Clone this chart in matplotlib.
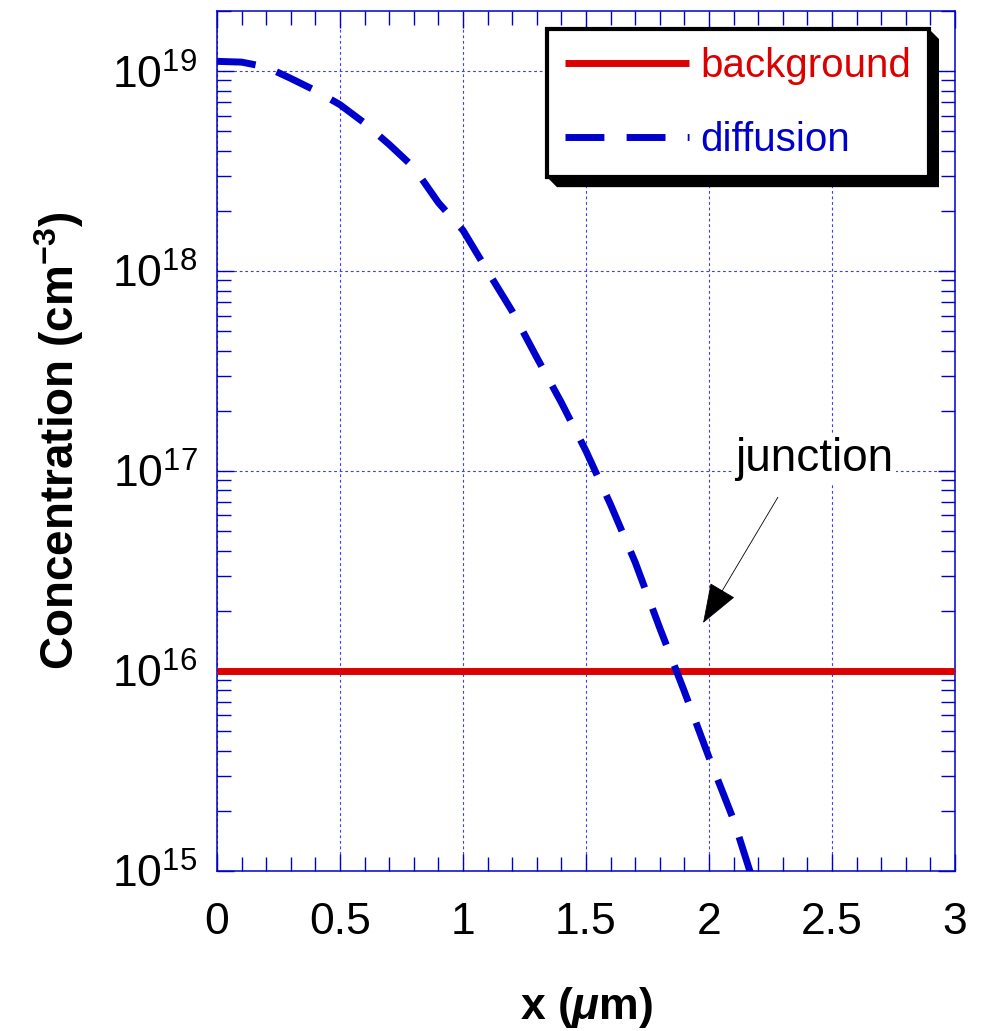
import matplotlib
matplotlib.use("Agg")
import matplotlib.pyplot as plt
from matplotlib.patches import Polygon
from matplotlib.transforms import IdentityTransform
from matplotlib.ticker import MultipleLocator, LogLocator, NullFormatter

plt.rcParams['font.family'] = ['Liberation Sans', 'DejaVu Sans']
plt.rcParams['mathtext.fontset'] = 'custom'
plt.rcParams['mathtext.rm'] = 'Liberation Sans'
plt.rcParams['mathtext.it'] = 'Liberation Sans:italic'
plt.rcParams['mathtext.bf'] = 'Liberation Sans:bold'
try:
    plt.rcParams['mathtext.bfit'] = 'Liberation Sans:italic:bold'
    XLABEL = r'x ($\mathbfit{\mu}$m)'
except KeyError:
    XLABEL = 'x (μm)'

# ---- data ----
x_diffusion = [0.0, 0.1, 0.2, 0.3, 0.4, 0.5, 0.6, 0.7, 0.8, 0.9, 1.0, 1.1,
               1.2, 1.3, 1.4, 1.5, 1.6, 1.7, 1.8, 1.9, 2.0, 2.1, 2.2]
c_diffusion = [1.12e19, 1.11e19, 1.05e19, 9.2e18, 8.0e18, 6.8e18, 5.5e18,
               4.3e18, 3.3e18, 2.2e18, 1.6e18, 1.0e18, 6.3e17, 3.7e17,
               2.2e17, 1.26e17, 6.8e16, 3.5e16, 1.64e16, 7.9e15, 3.7e15,
               1.8e15, 7.4e14]
x_background = [0.0, 3.0]
c_background = [1e16, 1e16]
labels = ['background', 'diffusion']
junction_text = 'junction'
junction_text_pos = (2.427, 1e17)
junction_tip = (1.976, 1.74e16)
junction_tail = (2.28, 7.4e16)

RED = '#DD0000'
BLUE = '#0000CC'
GRID = '#3c3cff'

fig = plt.figure(figsize=(9.99, 10.31), dpi=100)
ax = fig.add_axes([217/999, 160/1031, 738/999, 860/1031])

ax.plot(x_background, c_background, color=RED, lw=5, solid_capstyle='butt',
        label=labels[0], zorder=3)
ax.plot(x_diffusion, c_diffusion, color=BLUE, lw=5, linestyle=(0, (5.6, 3.2)),
        dash_capstyle='butt', label=labels[1], zorder=3)

ax.set_yscale('log')
ax.set_xlim(0, 3)
ax.set_ylim(1e15, 2e19)

ax.xaxis.set_major_locator(MultipleLocator(0.5))
ax.xaxis.set_minor_locator(MultipleLocator(0.1))
ax.yaxis.set_major_locator(LogLocator(base=10, numticks=10))
ax.yaxis.set_minor_locator(LogLocator(base=10, subs=range(2, 10), numticks=50))
ax.yaxis.set_minor_formatter(NullFormatter())
ax.set_xticks([0, 0.5, 1, 1.5, 2, 2.5, 3])
ax.set_xticklabels(['0', '0.5', '1', '1.5', '2', '2.5', '3'])

ax.tick_params(which='both', direction='in', top=True, right=True,
               color=BLUE, width=1)
ax.tick_params(which='major', length=12)
ax.tick_params(which='minor', length=10)
ax.tick_params(axis='x', which='major', labelsize=32, pad=22)
ax.tick_params(axis='y', which='major', labelsize=32, pad=14)

for s in ax.spines.values():
    s.set_color(BLUE)
    s.set_linewidth(1.1)

ax.grid(True, which='major', color=GRID, linestyle=(0, (2.5, 2.5)), lw=0.8)
ax.set_axisbelow(True)

ax.set_xlabel(XLABEL, fontsize=32, fontweight='bold')
ax.xaxis.set_label_coords(0.5, -0.132)
ax.xaxis.label.set_va('top')
ax.set_ylabel(r'Concentration (cm$^{\mathbf{-3}}$)', fontsize=33, fontweight='bold')
ax.yaxis.set_label_coords(-0.178, 0.5)

# junction annotation
ax.text(junction_text_pos[0], junction_text_pos[1], junction_text, fontsize=33,
        ha='center', va='baseline', zorder=4,
        bbox=dict(facecolor='white', edgecolor='none', pad=2))
ax.annotate('', xy=junction_tip, xytext=junction_tail,
            arrowprops=dict(arrowstyle='-|>,head_length=1.3,head_width=0.47',
                            mutation_scale=20, color='black', lw=0.6,
                            shrinkA=0, shrinkB=0), zorder=4)

leg = ax.legend(loc='upper right', bbox_to_anchor=(0.9648, 0.979),
                borderaxespad=0, fontsize=29, handlelength=3.08,
                handletextpad=0.27, labelspacing=0.89, borderpad=0.45,
                fancybox=False, framealpha=1, edgecolor='black')
leg.get_frame().set_linewidth(3)
leg.set_zorder(6)
for t, c in zip(leg.get_texts(), [RED, BLUE]):
    t.set_color(c)

fig.canvas.draw()
bb = leg.get_frame().get_window_extent()
d = 10
x0, y0, x1, y1 = bb.x0, bb.y0, bb.x1, bb.y1
shadow = Polygon([(x0, y0), (x0 + d, y0 - d), (x1 + d, y0 - d), (x1 + d, y1 - d),
                  (x1, y1), (x1, y0)], closed=True, facecolor='black',
                 edgecolor='none', transform=IdentityTransform(), clip_on=False,
                 zorder=5.9)
ax.add_artist(shadow)

fig.savefig('out.png', dpi=100)
